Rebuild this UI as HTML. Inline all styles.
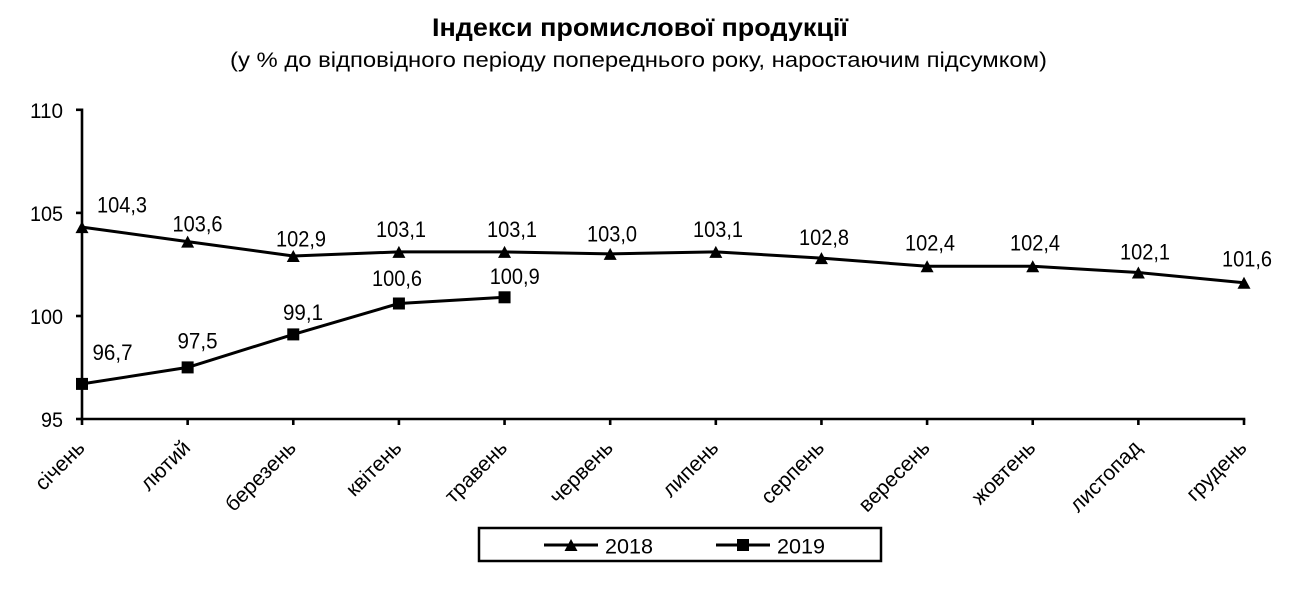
<!DOCTYPE html>
<html>
<head>
<meta charset="utf-8">
<style>
  html, body { margin:0; padding:0; background:#fff; }
  body { width:1300px; height:599px; overflow:hidden; }
  svg { display:block; }
  text { font-family: "Liberation Sans", "DejaVu Sans", sans-serif; fill:#000; }
</style>
</head>
<body>
<svg width="1300" height="599" viewBox="0 0 1300 599" xmlns="http://www.w3.org/2000/svg">
  <rect x="0" y="0" width="1300" height="599" fill="#fff"/>

  <!-- Title -->
  <text x="640" y="36" font-size="25" font-weight="bold" text-anchor="middle" textLength="416" lengthAdjust="spacingAndGlyphs">Індекси промислової продукції</text>
  <text x="638.5" y="67" font-size="21" text-anchor="middle" textLength="817" lengthAdjust="spacingAndGlyphs">(у % до відповідного періоду попереднього року, наростаючим підсумком)</text>

  <!-- Axes -->
  <g stroke="#000" stroke-width="2.6" fill="none">
    <line x1="82" y1="108.5" x2="82" y2="420.3"/>
    <line x1="80.7" y1="419" x2="1245.3" y2="419"/>
    <line x1="76" y1="109.8" x2="82" y2="109.8"/>
    <line x1="76" y1="212.9" x2="82" y2="212.9"/>
    <line x1="76" y1="316" x2="82" y2="316"/>
    <line x1="76" y1="419" x2="82" y2="419"/>
    <line x1="82" y1="419" x2="82" y2="425"/>
    <line x1="187.64" y1="419" x2="187.64" y2="425"/>
    <line x1="293.27" y1="419" x2="293.27" y2="425"/>
    <line x1="398.91" y1="419" x2="398.91" y2="425"/>
    <line x1="504.55" y1="419" x2="504.55" y2="425"/>
    <line x1="610.18" y1="419" x2="610.18" y2="425"/>
    <line x1="715.82" y1="419" x2="715.82" y2="425"/>
    <line x1="821.45" y1="419" x2="821.45" y2="425"/>
    <line x1="927.09" y1="419" x2="927.09" y2="425"/>
    <line x1="1032.73" y1="419" x2="1032.73" y2="425"/>
    <line x1="1138.36" y1="419" x2="1138.36" y2="425"/>
    <line x1="1244" y1="419" x2="1244" y2="425"/>
  </g>

  <!-- Y tick labels -->
  <g font-size="21.5" text-anchor="end">
    <text x="63" y="117.8" textLength="33" lengthAdjust="spacingAndGlyphs">110</text>
    <text x="63" y="220.8" textLength="33" lengthAdjust="spacingAndGlyphs">105</text>
    <text x="63" y="323.8" textLength="33" lengthAdjust="spacingAndGlyphs">100</text>
    <text x="63" y="426.8" textLength="22" lengthAdjust="spacingAndGlyphs">95</text>
  </g>

  <!-- X labels rotated -->
  <g font-size="21" text-anchor="end">
    <text transform="translate(86,449) rotate(-45)">січень</text>
    <text transform="translate(191.6,449) rotate(-45)">лютий</text>
    <text transform="translate(297.3,449) rotate(-45)">березень</text>
    <text transform="translate(402.9,449) rotate(-45)">квітень</text>
    <text transform="translate(508.5,449) rotate(-45)">травень</text>
    <text transform="translate(614.2,449) rotate(-45)">червень</text>
    <text transform="translate(719.8,449) rotate(-45)">липень</text>
    <text transform="translate(825.5,449) rotate(-45)">серпень</text>
    <text transform="translate(931.1,449) rotate(-45)">вересень</text>
    <text transform="translate(1036.7,449) rotate(-45)">жовтень</text>
    <text transform="translate(1142.4,449) rotate(-45)">листопад</text>
    <text transform="translate(1248,449) rotate(-45)">грудень</text>
  </g>

  <!-- Series 2018 -->
  <polyline fill="none" stroke="#000" stroke-width="3" stroke-linejoin="round"
    points="82,227.1 187.64,241.6 293.27,256.0 398.91,251.9 504.55,251.9 610.18,253.9 715.82,251.9 821.45,258.1 927.09,266.3 1032.73,266.3 1138.36,272.5 1244,282.8"/>
  <g fill="#000">
    <polygon points="75.5,233.1 88.5,233.1 82,221.1"/>
    <polygon points="181.14,247.6 194.14,247.6 187.64,235.6"/>
    <polygon points="286.77,262.0 299.77,262.0 293.27,250.0"/>
    <polygon points="392.41,257.9 405.41,257.9 398.91,245.9"/>
    <polygon points="498.05,257.9 511.05,257.9 504.55,245.9"/>
    <polygon points="603.68,259.9 616.68,259.9 610.18,247.9"/>
    <polygon points="709.32,257.9 722.32,257.9 715.82,245.9"/>
    <polygon points="814.95,264.1 827.95,264.1 821.45,252.1"/>
    <polygon points="920.59,272.3 933.59,272.3 927.09,260.3"/>
    <polygon points="1026.23,272.3 1039.23,272.3 1032.73,260.3"/>
    <polygon points="1131.86,278.5 1144.86,278.5 1138.36,266.5"/>
    <polygon points="1237.5,288.8 1250.5,288.8 1244,276.8"/>
  </g>

  <!-- Series 2019 -->
  <polyline fill="none" stroke="#000" stroke-width="3" stroke-linejoin="round"
    points="82,383.9 187.64,367.4 293.27,334.4 398.91,303.5 504.55,297.3"/>
  <g fill="#000">
    <rect x="76" y="377.9" width="12" height="12"/>
    <rect x="181.64" y="361.4" width="12" height="12"/>
    <rect x="287.27" y="328.4" width="12" height="12"/>
    <rect x="392.91" y="297.5" width="12" height="12"/>
    <rect x="498.55" y="291.3" width="12" height="12"/>
  </g>

  <!-- Data labels 2018 -->
  <g font-size="22" text-anchor="middle" lengthAdjust="spacingAndGlyphs">
    <text x="122" y="212.5" textLength="50" lengthAdjust="spacingAndGlyphs">104,3</text>
    <text x="197.5" y="231.5" textLength="50" lengthAdjust="spacingAndGlyphs">103,6</text>
    <text x="301" y="246.5" textLength="50" lengthAdjust="spacingAndGlyphs">102,9</text>
    <text x="401" y="237" textLength="50" lengthAdjust="spacingAndGlyphs">103,1</text>
    <text x="512" y="237" textLength="50" lengthAdjust="spacingAndGlyphs">103,1</text>
    <text x="612" y="241.5" textLength="50" lengthAdjust="spacingAndGlyphs">103,0</text>
    <text x="718" y="237" textLength="50" lengthAdjust="spacingAndGlyphs">103,1</text>
    <text x="824" y="245" textLength="50" lengthAdjust="spacingAndGlyphs">102,8</text>
    <text x="930" y="250.7" textLength="50" lengthAdjust="spacingAndGlyphs">102,4</text>
    <text x="1035" y="250.7" textLength="50" lengthAdjust="spacingAndGlyphs">102,4</text>
    <text x="1145" y="259.3" textLength="50" lengthAdjust="spacingAndGlyphs">102,1</text>
    <text x="1247" y="266.7" textLength="50" lengthAdjust="spacingAndGlyphs">101,6</text>
  </g>

  <!-- Data labels 2019 -->
  <g font-size="22" text-anchor="middle">
    <text x="112.5" y="360" textLength="40" lengthAdjust="spacingAndGlyphs">96,7</text>
    <text x="197.5" y="348.3" textLength="40" lengthAdjust="spacingAndGlyphs">97,5</text>
    <text x="303" y="320" textLength="40" lengthAdjust="spacingAndGlyphs">99,1</text>
    <text x="397" y="286" textLength="50" lengthAdjust="spacingAndGlyphs">100,6</text>
    <text x="514.7" y="284" textLength="50" lengthAdjust="spacingAndGlyphs">100,9</text>
  </g>

  <!-- Legend -->
  <rect x="479" y="528" width="402" height="33" fill="none" stroke="#000" stroke-width="2.5"/>
  <line x1="544" y1="545" x2="598" y2="545" stroke="#000" stroke-width="3"/>
  <polygon points="564.5,551 577.5,551 571,539" fill="#000"/>
  <text x="605" y="553.5" font-size="21.5" textLength="48" lengthAdjust="spacingAndGlyphs">2018</text>
  <line x1="716" y1="545" x2="770" y2="545" stroke="#000" stroke-width="3"/>
  <rect x="737" y="539" width="12" height="12" fill="#000"/>
  <text x="777" y="553.5" font-size="21.5" textLength="48" lengthAdjust="spacingAndGlyphs">2019</text>
</svg>
</body>
</html>
